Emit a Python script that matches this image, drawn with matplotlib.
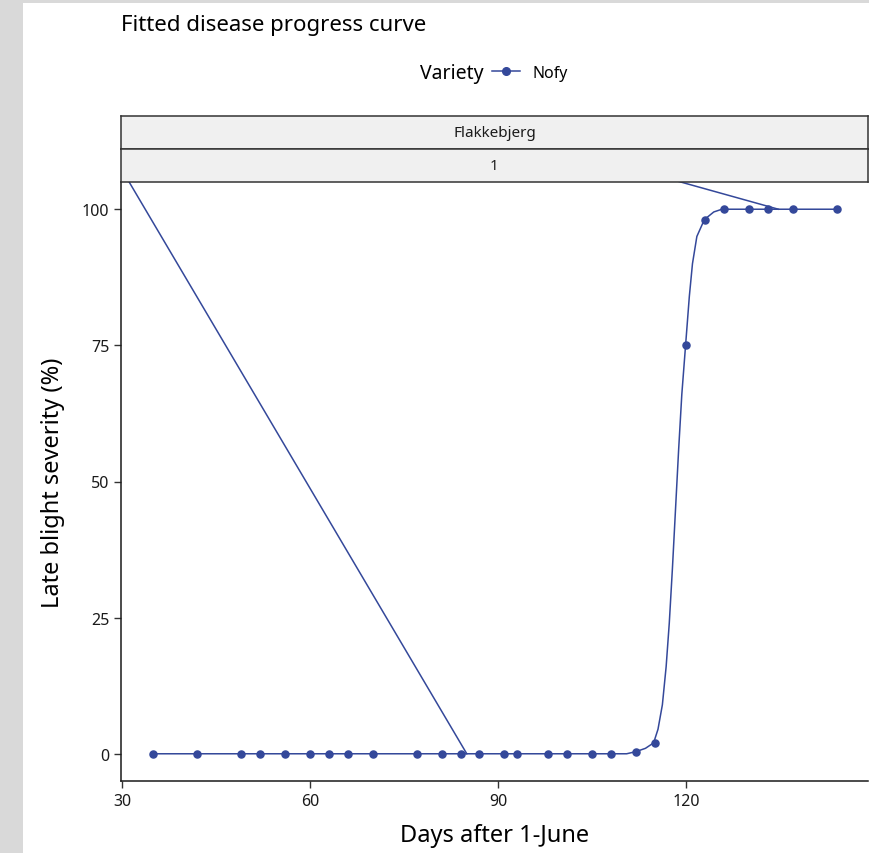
import matplotlib
matplotlib.use("Agg")
import matplotlib.pyplot as plt
from matplotlib.patches import Rectangle
from matplotlib.lines import Line2D

plt.rcParams['font.family'] = ['Noto Sans', 'DejaVu Sans']

# observed severity (%) by days after 1 June
obs_days = [35, 42, 49, 52, 56, 60, 63, 66, 70, 77, 81, 84, 87, 91, 93, 98,
            101, 105, 108, 112, 115, 120, 123, 126, 130, 133, 137, 144]
obs_sev = [0, 0, 0, 0, 0, 0, 0, 0, 0, 0, 0, 0, 0, 0, 0, 0,
           0, 0, 0, 0.4, 2, 75, 98, 100, 100, 100, 100, 100]

# fitted curve
fit_days = [35, 110.5, 112, 113.5, 114.8, 115.5, 116.2, 116.8, 117.3, 117.8,
            118.3, 118.8, 119.3, 119.9, 120.5, 121.0, 121.7, 122.9, 124.4, 125.7, 144]
fit_sev = [0, 0, 0.4, 1.0, 2.0, 4.5, 9, 16, 24, 34,
           45, 56, 66, 75, 84, 90, 95, 98.1, 99.5, 100, 100]

# stray segment of the fitted path (leaves the panel at the top)
stray_days = [85, 13.8, 134.7]
stray_sev = [0, 138.8, 100]

col = '#34489a'
W, H = 869, 854

fig = plt.figure(figsize=(W / 100, H / 100), dpi=100, facecolor='#d9d9d9')
fig.patches.append(Rectangle((23 / W, 0), 1, (H - 4) / H, transform=fig.transFigure,
                             facecolor='white', edgecolor='none', zorder=-10))

left, right, top, bottom = 121, 868, 183, 782
ax = fig.add_axes([left / W, (H - bottom) / H, (right - left) / W, (bottom - top) / H])
ax.plot(fit_days, fit_sev, color=col, lw=1.1, zorder=2)
ax.plot(stray_days, stray_sev, color=col, lw=1.1, zorder=2)
ax.scatter(obs_days, obs_sev, color=col, s=26, zorder=3)

ax.set_xlim(29.84, 149.0)
ax.set_ylim(-5, 105)
ax.set_xticks([30, 60, 90, 120])
ax.set_yticks([0, 25, 50, 75, 100])
for s in ['top', 'right']:
    ax.spines[s].set_visible(False)
for s in ['left', 'bottom']:
    ax.spines[s].set_color('#1a1a1a')
    ax.spines[s].set_linewidth(1.1)
ax.tick_params(length=5, width=1, color='#333333', labelsize=11.5, labelcolor='#1a1a1a')
ax.set_xlabel('Days after 1-June', fontsize=17, labelpad=10)
ax.set_ylabel('Late blight severity (%)', fontsize=17, labelpad=12)

# facet strips
for (y0, y1, txt) in [(117, 150, 'Flakkebjerg'), (150, 183, '1')]:
    sax = fig.add_axes([left / W, (H - y1) / H, (right - left) / W, (y1 - y0) / H])
    sax.set_facecolor('#f0f0f0')
    sax.set_xticks([])
    sax.set_yticks([])
    for s in sax.spines.values():
        s.set_color('#333333')
        s.set_linewidth(1.1)
    sax.text(0.5, 0.5, txt, ha='center', va='center', fontsize=11, color='#1a1a1a',
             transform=sax.transAxes)

fig.text(left / W, 1 - 25 / H, 'Fitted disease progress curve', fontsize=16,
         ha='left', va='center')

# legend: title text plus one entry beside it
fig.text(483 / W, 1 - 74 / H, 'Variety', fontsize=14, ha='right', va='center')
handle = Line2D([], [], color=col, lw=1.1, marker='o', markersize=5.5)
fig.legend([handle], ['Nofy'], loc='center left', bbox_to_anchor=(492 / W, 1 - 74 / H),
           frameon=False, fontsize=11.5, handlelength=1.75, handletextpad=0.8,
           borderpad=0, borderaxespad=0)

fig.savefig('out.png', dpi=100, facecolor=fig.get_facecolor())
